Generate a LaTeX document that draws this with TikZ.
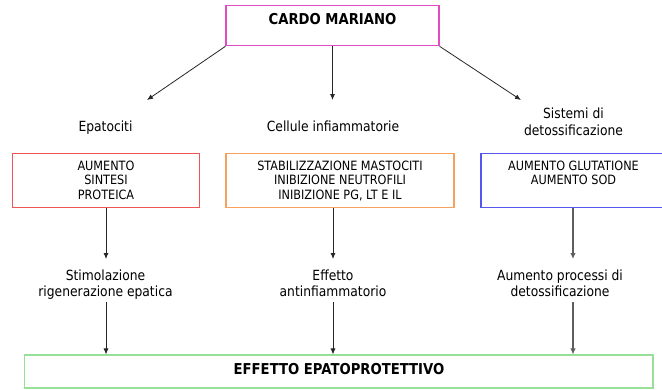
\documentclass[tikz,border=0pt]{standalone}
\usepackage{fontspec}
\setmainfont{DejaVu Sans}[FakeStretch=0.88]
\usetikzlibrary{arrows.meta}
\definecolor{cmag}{HTML}{E04CC4}
\definecolor{cred}{HTML}{F05454}
\definecolor{corange}{HTML}{F6A25E}
\definecolor{cblue}{HTML}{5656F0}
\definecolor{cgreen}{HTML}{98E098}
\definecolor{cgray}{HTML}{5E5E5E}
\newcommand{\mylines}[1]{\begin{tabular}[t]{@{}c@{}}#1\end{tabular}}
\begin{document}
\begin{tikzpicture}[x=1pt,y=-1pt,
  boxnode/.style={draw=#1, line width=1.1pt, inner sep=0pt, fill=none},
  lbl/.style={anchor=base, inner sep=0pt, font=\fontsize{14}{16.5}\selectfont},
  boxtxt/.style={anchor=base, inner sep=0pt, font=\fontsize{12.8}{14.5}\selectfont},
  ttl/.style={anchor=base, inner sep=0pt, font=\fontsize{15}{18}\selectfont\bfseries},
  arr/.style={draw=black!85, line width=0.8pt, -{Latex[length=6pt,width=5pt]}},
  arrg/.style={draw=cgray, line width=1.5pt, -{Latex[length=6pt,width=5.5pt]}}]
\useasboundingbox (0,0) rectangle (662,389);
\fill[white] (0,0) rectangle (662,389);

% boxes
\node[boxnode=cmag, minimum width=213pt, minimum height=40.5pt] (top) at (332.5,25.5) {};
\node[boxnode=cred, minimum width=186.6pt, minimum height=54pt] (lbox) at (106,180.5) {};
\node[boxnode=corange, minimum width=228pt, minimum height=54pt] (mbox) at (340,180.5) {};
\node[boxnode=cblue, minimum width=188pt, minimum height=54pt] (rbox) at (575,180.5) {};
\node[boxnode=cgreen, minimum width=628.5pt, minimum height=33pt] (bot) at (338.75,371.5) {};

% titles
\node[ttl] (ttop) at (332.5,24.2) {CARDO MARIANO};
\node[ttl] (tbot) at (339,374.5) {EFFETTO EPATOPROTETTIVO};

% labels row 1
\node[lbl] (epa) at (105.5,131) {Epatociti};
\node[lbl] (cel) at (333,131) {Cellule infiammatorie};
\node[lbl] (sis) at (573.5,118.5) {\mylines{Sistemi di\\detossificazione}};

% box texts
\node[boxtxt] (lt) at (106,170.4) {\mylines{AUMENTO\\SINTESI\\PROTEICA}};
\node[boxtxt] (mt) at (340,170.4) {\mylines{STABILIZZAZIONE MASTOCITI\\INIBIZIONE NEUTROFILI\\INIBIZIONE PG, LT E IL}};
\node[boxtxt] (rt) at (573.5,170.4) {\mylines{AUMENTO GLUTATIONE\\AUMENTO SOD}};

% labels row 2
\node[lbl] (stim) at (105.5,280) {\mylines{Stimolazione\\rigenerazione epatica}};
\node[lbl] (eff) at (333,280) {\mylines{Effetto\\antinfiammatorio}};
\node[lbl] (aum) at (560,280) {\mylines{Aumento processi di\\detossificazione}};

% arrow end points
\coordinate (t1) at (147,100);
\coordinate (t2) at (332.5,100);
\coordinate (t3) at (521,100);
\coordinate (d1) at (106,259);
\coordinate (d2) at (333,259);
\coordinate (d3) at (573,259);
\coordinate (u1) at (106,302);
\coordinate (u2) at (333,302);
\coordinate (u3) at (573,302);

\draw[arr] (top.south west) -- (t1);
\draw[arr] (top.south) -- (t2);
\draw[arr] (top.south east) -- (t3);
\draw[arr] (lbox.south -| d1) -- (d1);
\draw[arr] (mbox.south -| d2) -- (d2);
\draw[arrg] (rbox.south -| d3) -- (d3);
\draw[arr] (u1) -- (u1 |- bot.north);
\draw[arr] (u2) -- (u2 |- bot.north);
\draw[arrg] (u3) -- (u3 |- bot.north);
\end{tikzpicture}
\end{document}
